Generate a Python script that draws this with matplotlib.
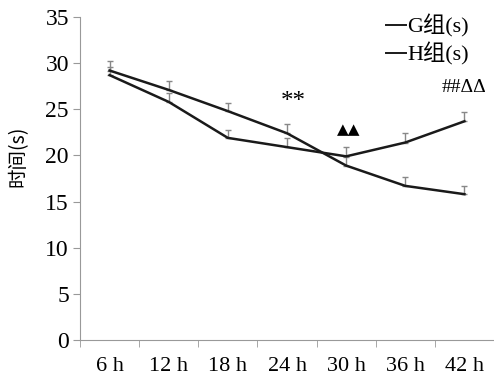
import numpy as np
import matplotlib.pyplot as plt

plt.rcParams['font.family'] = ['Liberation Serif', 'Noto Sans CJK SC']

labels = ['6 h', '12 h', '18 h', '24 h', '30 h', '36 h', '42 h']
g_vals = [29.2, 27.1, 24.8, 22.4, 18.9, 16.7, 15.8]
g_err = [1.0, 1.0, 0.9, 1.0, 0.9, 1.0, 0.9]
h_vals = [28.7, 25.8, 21.9, 20.9, 19.9, 21.4, 23.7]
h_err = [0.9, 1.0, 0.9, 1.0, 1.0, 1.0, 1.0]

fig = plt.figure(figsize=(4.94, 3.78), dpi=100)
ax = fig.add_axes([80 / 494, 38 / 378, 414 / 494, 323 / 378])

x = np.arange(len(labels))
ax.errorbar(x, g_vals, yerr=[np.zeros(len(g_err)), g_err], fmt='none',
            ecolor='#888888', elinewidth=1, capsize=2.5, capthick=1)
ax.errorbar(x, h_vals, yerr=[np.zeros(len(h_err)), h_err], fmt='none',
            ecolor='#888888', elinewidth=1, capsize=2.5, capthick=1)
ax.plot(x, g_vals, color='#1a1a1a', lw=1.8, label='G组(s)')
ax.plot(x, h_vals, color='#1a1a1a', lw=1.8, label='H组(s)')

ax.set_xlim(-0.5, len(labels) - 0.5)
ax.set_ylim(0, 35)
ax.set_yticks(range(0, 36, 5))
ax.set_xticks(x)
ax.set_xticklabels(labels, fontsize=16)
ax.set_xticks(np.arange(-0.5, len(labels), 1), minor=True)
ax.tick_params(axis='x', which='major', length=0, pad=12)
ax.tick_params(axis='x', which='minor', length=5, color='#999999', direction='out')
ax.tick_params(axis='y', labelsize=17, length=5, color='#999999', pad=3)

for s in ['top', 'right']:
    ax.spines[s].set_visible(False)
for s in ['left', 'bottom']:
    ax.spines[s].set_color('#999999')

ax.set_ylabel('时间(s)', fontsize=14, family=['Noto Sans CJK SC'])
ax.yaxis.set_label_coords(-0.125, 0.57)

ax.text(3.1, 25.8, '**', fontsize=18, ha='center', va='center')
ax.text(4.05, 22.8, '▲▲', fontsize=11, ha='center', va='center',
        family=['DejaVu Sans'])
ax.text(6.0, 27.4, '##ΔΔ', fontsize=14, ha='center', va='center')

leg = ax.legend(loc='upper right', bbox_to_anchor=(0.96, 1.035), frameon=False,
                fontsize=16, handlelength=0.9, handletextpad=0.05,
                labelspacing=0.2, borderaxespad=0)
for line in leg.get_lines():
    line.set_linewidth(1.4)

fig.savefig('out.png', dpi=100)
